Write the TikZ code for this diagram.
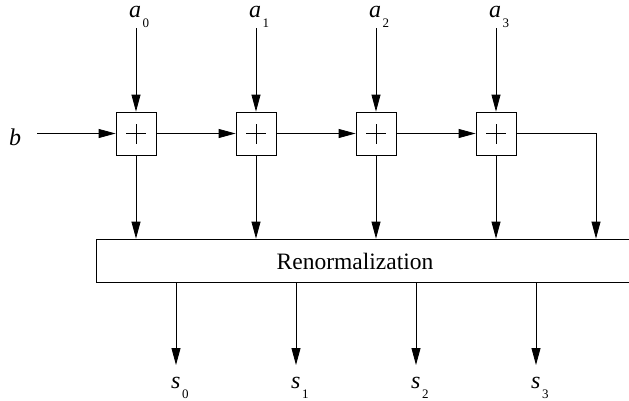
\documentclass[tikz,border=0pt]{standalone}
\usepackage{fontspec}
\setmainfont{Liberation Serif}
\usetikzlibrary{arrows.meta}
\newcommand\sublab[2]{\textit{#1}\kern1.5pt\raisebox{-10pt}{\fontsize{13}{15}\selectfont #2}}
\begin{document}
\begin{tikzpicture}[x=1pt,y=-1pt,
  conn/.style={line width=0.8pt,-{Triangle[length=17pt,width=9pt]}},
  wire/.style={line width=0.8pt},
  adder/.style={draw,line width=0.8pt,minimum width=40pt,minimum height=43pt,inner sep=0pt,
    path picture={\draw[line width=0.8pt] ([xshift=-10pt]path picture bounding box.center) -- ([xshift=10pt]path picture bounding box.center)
      ([yshift=-10pt]path picture bounding box.center) -- ([yshift=10pt]path picture bounding box.center);}},
  lab/.style={inner sep=0pt,font=\fontsize{24}{28}\selectfont},
  big/.style={draw,line width=0.8pt,inner sep=0pt}]
\useasboundingbox (0,0) rectangle (629,400);
% adders
\foreach \i in {0,1,2,3}{
  \node[adder] (add\i) at (136+120*\i,133.5) {};
}
% renormalization box (extends past right edge)
\node[big,minimum width=544pt,minimum height=43pt] (ren) at (368,260.5) {};
\node[lab,font=\fontsize{23.5}{28}\selectfont] (rentxt) at (355,261) {Renormalization};
% input labels
\foreach \i in {0,1,2,3}{
  \node[lab,anchor=base west] (la\i) at (129+120*\i,17.5) {\sublab{a}{\i}};
  \coordinate (ta\i) at (136+120*\i,28);
  \draw[conn] (ta\i) -- (add\i.north);
}
\node[lab,anchor=base west] (lb) at (9,145) {\textit{b}};
\coordinate (tb) at (37,133.5);
\draw[conn] (tb) -- (add0.west);
\draw[conn] (add0.east) -- (add1.west);
\draw[conn] (add1.east) -- (add2.west);
\draw[conn] (add2.east) -- (add3.west);
\coordinate (corner) at (596,133.5);
\draw[conn] (add3.east) -- (corner) -- (corner |- ren.north);
\foreach \i in {0,1,2,3}{
  \draw[conn] (add\i.south) -- (add\i.south |- ren.north);
  \coordinate (rs\i) at (176+120*\i,282);
  \coordinate (os\i) at (176+120*\i,365);
  \draw[conn] (rs\i) -- (os\i);
  \node[lab,anchor=base west] (ls\i) at (171+120*\i,388) {\sublab{s}{\i}};
}
\end{tikzpicture}
\end{document}
